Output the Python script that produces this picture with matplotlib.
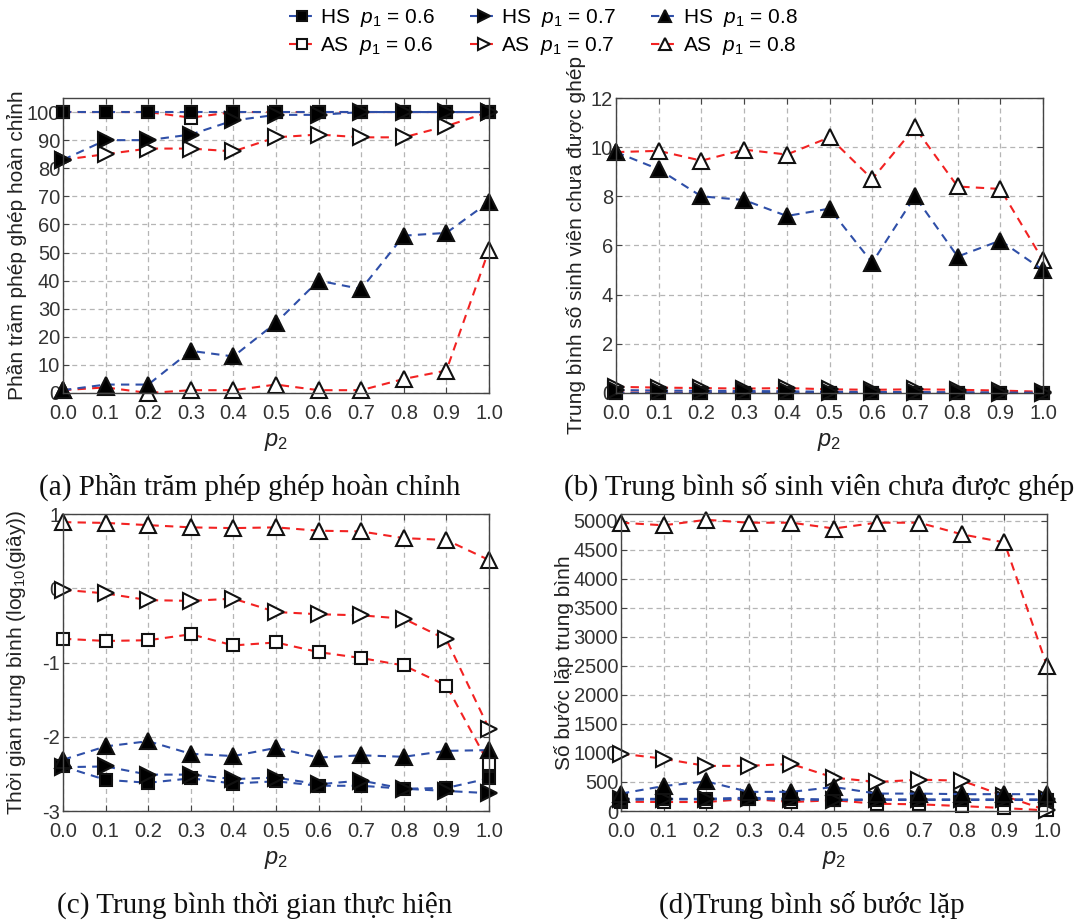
import matplotlib
matplotlib.use("Agg")
import matplotlib.pyplot as plt

plt.rcParams['font.family'] = ['Liberation Sans', 'DejaVu Sans']
plt.rcParams['mathtext.fontset'] = 'custom'
plt.rcParams['mathtext.it'] = 'Liberation Sans:italic'
plt.rcParams['mathtext.rm'] = 'Liberation Sans'

p2 = [0.0, 0.1, 0.2, 0.3, 0.4, 0.5, 0.6, 0.7, 0.8, 0.9, 1.0]
xticklabels = ["0.0", "0.1", "0.2", "0.3", "0.4", "0.5", "0.6", "0.7", "0.8", "0.9", "1.0"]

# (a) phan tram phep ghep hoan chinh
a_hs06 = [100, 100, 100, 100, 100, 100, 100, 100, 100, 100, 100]
a_as06 = [100, 100, 100, 98, 100, 100, 100, 100, 100, 100, 100]
a_hs07 = [83, 90, 90, 92, 97, 99, 99, 100, 100, 100, 100]
a_as07 = [83, 85, 87, 87, 86, 91, 92, 91, 91, 95, 100]
a_hs08 = [1, 3, 3, 15, 13, 25, 40, 37, 56, 57, 68]
a_as08 = [1, 2, 0, 1, 1, 3, 1, 1, 5, 8, 51]

# (b) trung binh so sinh vien chua duoc ghep
b_hs06 = [0.0, 0.0, 0.0, 0.0, 0.0, 0.0, 0.0, 0.0, 0.0, 0.0, 0.0]
b_as06 = [0.02, 0.02, 0.02, 0.02, 0.02, 0.01, 0.01, 0.01, 0.01, 0.01, 0.0]
b_hs07 = [0.12, 0.1, 0.09, 0.08, 0.07, 0.05, 0.04, 0.04, 0.03, 0.02, 0.01]
b_as07 = [0.25, 0.22, 0.2, 0.18, 0.2, 0.15, 0.13, 0.15, 0.13, 0.1, 0.05]
b_hs08 = [9.8, 9.1, 8.0, 7.85, 7.2, 7.5, 5.3, 8.0, 5.55, 6.2, 5.0]
b_as08 = [9.8, 9.85, 9.45, 9.9, 9.7, 10.4, 8.7, 10.8, 8.4, 8.3, 5.4]

# (c) log10 thoi gian
c_hs06 = [-2.40, -2.58, -2.62, -2.56, -2.63, -2.60, -2.66, -2.66, -2.70, -2.69, -2.56]
c_as06 = [-0.68, -0.71, -0.70, -0.62, -0.77, -0.73, -0.86, -0.94, -1.04, -1.31, -2.37]
c_hs07 = [-2.41, -2.40, -2.51, -2.51, -2.57, -2.55, -2.64, -2.59, -2.70, -2.73, -2.76]
c_as07 = [-0.02, -0.07, -0.16, -0.17, -0.14, -0.32, -0.35, -0.365, -0.41, -0.69, -1.89]
c_hs08 = [-2.31, -2.13, -2.06, -2.23, -2.26, -2.15, -2.28, -2.25, -2.27, -2.19, -2.18]
c_as08 = [0.89, 0.88, 0.85, 0.82, 0.81, 0.82, 0.775, 0.765, 0.675, 0.65, 0.38]

# (d) so buoc lap
d_hs06 = [190, 200, 200, 210, 200, 190, 190, 190, 190, 190, 190]
d_as06 = [160, 155, 155, 210, 155, 185, 125, 115, 85, 50, 10]
d_hs07 = [210, 210, 210, 230, 210, 195, 200, 200, 200, 200, 200]
d_as07 = [990, 900, 776, 780, 810, 575, 500, 540, 523, 260, 10]
d_hs08 = [300, 430, 510, 330, 330, 414, 300, 300, 290, 290, 290]
d_as08 = [4970, 4925, 5020, 4970, 4970, 4870, 4970, 4970, 4770, 4630, 2500]

blue = '#2f4fa8'
red = '#f22222'
W, H = 1079, 922


def box(l, r, t, b):
    return [l / W, (H - b) / H, (r - l) / W, (b - t) / H]


fig = plt.figure(figsize=(W / 100, H / 100), dpi=100)

series_style = [
    # (key, color, marker, face, size, label)
    ('as06', red, 's', 'white', 8, 'AS  $p_1$ = 0.6'),
    ('as07', red, '>', 'white', 11, 'AS  $p_1$ = 0.7'),
    ('as08', red, '^', 'white', 11, 'AS  $p_1$ = 0.8'),
    ('hs06', blue, 's', 'black', 8, 'HS  $p_1$ = 0.6'),
    ('hs07', blue, '>', 'black', 11, 'HS  $p_1$ = 0.7'),
    ('hs08', blue, '^', 'black', 11, 'HS  $p_1$ = 0.8'),
]

panels = [
    (box(63, 489, 98, 393), {'hs06': a_hs06, 'as06': a_as06, 'hs07': a_hs07, 'as07': a_as07, 'hs08': a_hs08, 'as08': a_as08},
     (0, 105), list(range(0, 101, 10)), "Phần trăm phép ghép hoàn chỉnh", 27),
    (box(616, 1043, 98, 393), {'hs06': b_hs06, 'as06': b_as06, 'hs07': b_hs07, 'as07': b_as07, 'hs08': b_hs08, 'as08': b_as08},
     (0, 12), list(range(0, 13, 2)), "Trung bình số sinh viên chưa được ghép", 586),
    (box(63, 489, 514, 811), {'hs06': c_hs06, 'as06': c_as06, 'hs07': c_hs07, 'as07': c_as07, 'hs08': c_hs08, 'as08': c_as08},
     (-3, 1), [-3, -2, -1, 0, 1], "Thời gian trung bình (log$_{10}$(giây))", 28),
    (box(621, 1047, 514, 811), {'hs06': d_hs06, 'as06': d_as06, 'hs07': d_hs07, 'as07': d_as07, 'hs08': d_hs08, 'as08': d_as08},
     (0, 5120), list(range(0, 5001, 500)), "Số bước lặp trung bình", 574),
]

handles = {}
for rect, data, ylim, yticks, ylabel, ylx in panels:
    ax = fig.add_axes(rect)
    for key, col, mk, face, ms, lab in series_style:
        ln, = ax.plot(p2, data[key], linestyle=(0, (4, 3)), color=col, lw=1.5,
                      marker=mk, markerfacecolor=face, markeredgecolor='#111111',
                      markeredgewidth=1.5, markersize=ms, clip_on=False, label=lab)
        handles[key] = ln
    ax.set_xlim(0, 1.0)
    ax.set_ylim(*ylim)
    ax.set_xticks(p2)
    ax.set_xticklabels(xticklabels)
    ax.set_yticks(yticks)
    ax.set_yticklabels([str(v) for v in yticks])
    ax.grid(True, linestyle=(0, (4, 3)), color='#b5b5b5', lw=0.9)
    ax.set_axisbelow(True)
    for s in ax.spines.values():
        s.set_color('#444444')
        s.set_linewidth(1.0)
    ax.tick_params(direction='in', length=4, top=True, right=True, labelsize=14.5,
                   colors='#444444', labelcolor='#333333')
    ax.tick_params(axis='x', pad=8)
    ax.tick_params(axis='y', pad=2)
    ax.set_xlabel("$p_2$", fontsize=17, color='#222222', labelpad=6)
    ax.set_ylabel(ylabel, fontsize=15, color='#222222')
    ax.yaxis.set_label_coords((ylx - rect[0] * W) / (rect[2] * W), 0.5)

captions = [
    (250, 487, "(a) Phần trăm phép ghép hoàn chỉnh"),
    (819, 487, "(b) Trung bình số sinh viên chưa được ghép"),
    (255, 905, "(c) Trung bình thời gian thực hiện"),
    (812, 905, "(d)Trung bình số bước lặp"),
]
for x, y, t in captions:
    fig.text(x / W, 1 - y / H, t, ha='center', va='center', fontsize=21,
             family='Liberation Serif', color='#111111')

order = ['hs06', 'as06', 'hs07', 'as07', 'hs08', 'as08']
fig.legend([handles[k] for k in order], [handles[k].get_label() for k in order],
           ncol=3, loc='center', bbox_to_anchor=(543 / W, 1 - 32 / H), frameon=False,
           fontsize=15, handlelength=1.3, columnspacing=1.7, handletextpad=0.2,
           labelspacing=0.3, markerscale=0.85)

fig.savefig("out.png", dpi=100)
